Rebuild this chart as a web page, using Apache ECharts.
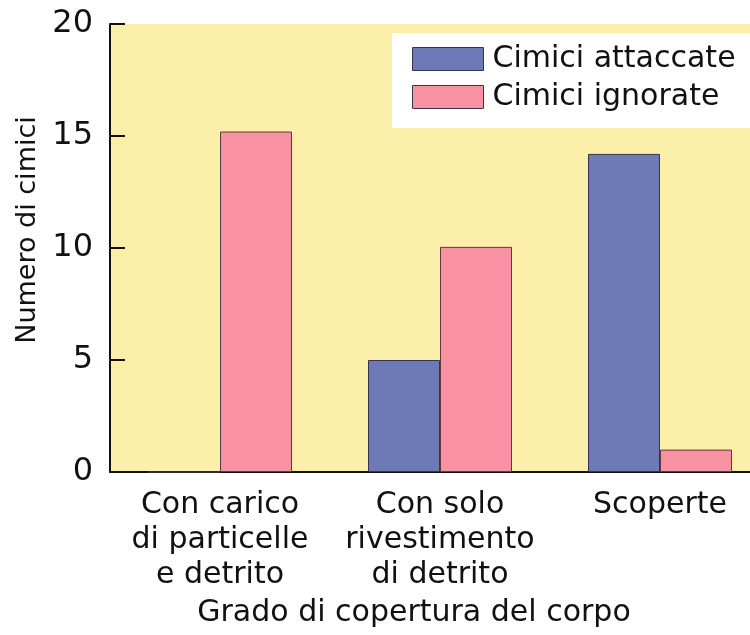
<!DOCTYPE html>
<html>
<head>
<meta charset="utf-8">
<script src="https://cdn.jsdelivr.net/npm/echarts@6/dist/echarts.min.js"></script>
<style>
  html, body { margin: 0; padding: 0; background: #fff; }
  #chart { width: 750px; height: 635px; }
</style>
</head>
<body>
<div id="chart"></div>
<script>
const categories = ['Con carico\ndi particelle\ne detrito', 'Con solo\nrivestimento\ndi detrito', 'Scoperte'];
const attaccate = [0, 5, 14.2];
const ignorate = [15.2, 10.05, 1];
const yTicks = [0, 5, 10, 15, 20];

const font = 'DejaVu Sans';

const chart = echarts.init(document.getElementById('chart'));

chart.setOption({
    animation: false,
    textStyle: { fontFamily: font, color: '#111' },
    grid: {
        left: 110,
        right: -20,
        top: 24,
        bottom: 163,
        outerBoundsMode: 'none',
        containLabel: false,
        show: true,
        backgroundColor: '#fcefaa',
        borderWidth: 0
    },
    legend: {
        orient: 'vertical',
        left: 392,
        top: 33,
        backgroundColor: '#fff',
        padding: [11, 40, 16, 20],
        icon: 'rect',
        itemWidth: 71,
        itemHeight: 23,
        itemGap: 8,
        itemStyle: { borderColor: '#3a3050', borderWidth: 1 },
        textStyle: { fontSize: 30, color: '#111', fontFamily: font, padding: [0, 0, 0, 4] },
        data: ['Cimici attaccate', 'Cimici ignorate']
    },
    xAxis: {
        type: 'category',
        data: categories,
        name: 'Grado di copertura del corpo',
        nameLocation: 'middle',
        nameGap: 124,
        nameTextStyle: { fontSize: 30, color: '#111', padding: [0, 0, 0, -52] },
        axisLine: { lineStyle: { color: '#111', width: 2 } },
        axisTick: { show: false },
        axisLabel: { interval: 0, fontSize: 30, color: '#111', margin: 16, lineHeight: 35 }
    },
    yAxis: {
        type: 'value',
        min: 0,
        max: 20,
        interval: 5,
        name: 'Numero di cimici',
        nameLocation: 'middle',
        nameGap: 69,
        nameTextStyle: { fontSize: 27, color: '#111', padding: [0, 0, 0, 36] },
        axisLine: { show: true, lineStyle: { color: '#111', width: 2 } },
        axisTick: { show: true, inside: true, length: 15, lineStyle: { color: '#111', width: 2 } },
        axisLabel: {
            fontSize: 32,
            color: '#111',
            margin: 17,
            formatter: v => yTicks.includes(v) ? String(v) : ''
        },
        splitLine: { show: false }
    },
    series: [
        {
            name: 'Cimici attaccate',
            type: 'bar',
            data: attaccate,
            barWidth: 72,
            barGap: '0%',
            itemStyle: { color: '#6e7ab6', borderColor: '#3a3050', borderWidth: 1 }
        },
        {
            name: 'Cimici ignorate',
            type: 'bar',
            data: ignorate,
            barWidth: 72,
            barGap: '0%',
            itemStyle: { color: '#f891a2', borderColor: '#5a3a3a', borderWidth: 1 }
        }
    ]
});
</script>
</body>
</html>
